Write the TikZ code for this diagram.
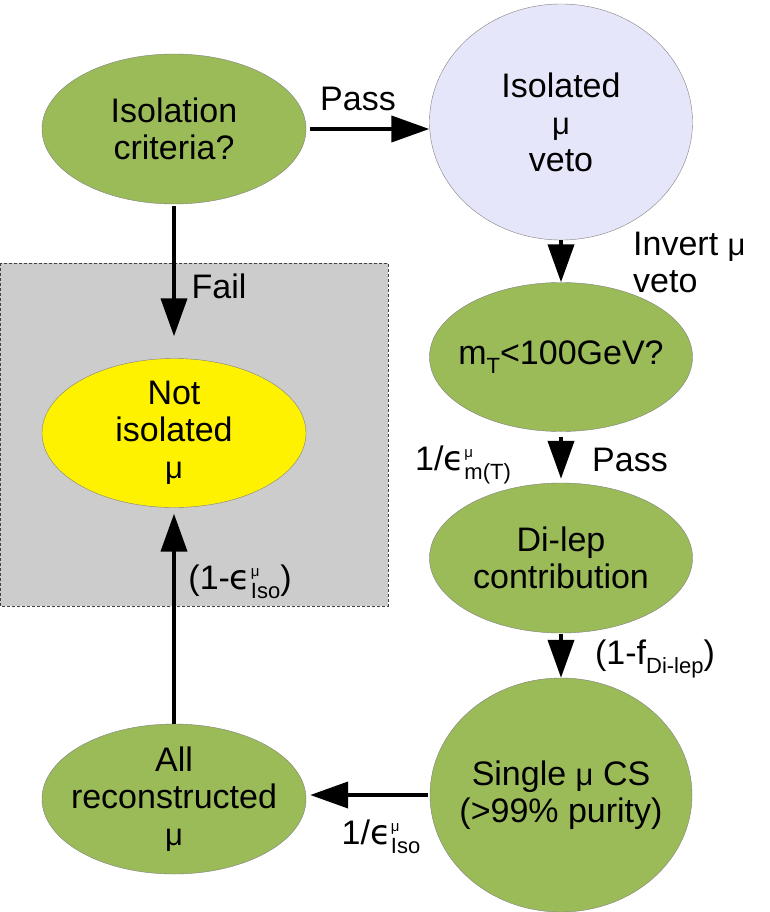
\documentclass[tikz,border=0pt]{standalone}
\usepackage{fontspec}
\setmainfont{Liberation Sans}
\newfontfamily\epsfont{DejaVu Sans}
\usetikzlibrary{shapes.geometric,arrows.meta}
\definecolor{olivegreen}{HTML}{9BBB59}
\definecolor{vetoblue}{HTML}{E6E6FA}
\definecolor{boxgray}{HTML}{CCCCCC}
\newcommand\eps{{\epsfont ϵ}}
\newcommand\smu{\mbox{\fontsize{31}{37}\selectfont μ}}
\newcommand\supsub[2]{\rlap{\raisebox{13pt}[0pt][0pt]{\fontsize{15}{15}\selectfont #1}}\raisebox{-9pt}[0pt][0pt]{\fontsize{22}{22}\selectfont #2}}
\newcommand\lowsub[1]{\raisebox{-9pt}{\fontsize{22}{22}\selectfont #1}}
\begin{document}
\begin{tikzpicture}[x=1pt,y=-1pt]
  \tikzset{font={\fontsize{34}{37}\selectfont},
    ell/.style={ellipse,draw=gray,fill=olivegreen,inner sep=0pt,minimum width=264pt},
    txt/.style={align=center,inner sep=0pt},
    arr/.style={-{Triangle[length=38pt,width=26pt]},line width=4pt}}
  \useasboundingbox (0,0) rectangle (770,912);
  % failed region
  \fill[boxgray] (0,263) rectangle (388,606);
  \draw[densely dashed,gray!50!black,thin] (0,263) rectangle (388,606);
  % left column
  \node[ell,minimum height=150pt] (iso) at (174,129) {};
  \node[txt] (isoT) at (iso) {Isolation\\criteria?};
  \node[ell,fill=yellow,minimum height=149pt] (notiso) at (174,433) {};
  \node[txt] (notisoT) at (notiso) {Not\\isolated\\\smu};
  \node[ell,minimum height=150pt] (allrec) at (174,799) {};
  \node[txt] (allrecT) at (allrec) {All\\reconstructed\\\smu};
  % right column
  \node[ell,fill=vetoblue,minimum width=263pt,minimum height=236pt] (veto) at (561,122) {};
  \node[txt] (vetoT) at (veto) {Isolated\\\smu\\veto};
  \node[ell,minimum width=263pt,minimum height=149pt] (mt) at (561,357) {};
  \node[txt] (mtT) at (mt) {m\lowsub{T}<100GeV?};
  \node[ell,minimum width=263pt,minimum height=150pt] (dilep) at (561,558) {};
  \node[txt] (dilepT) at (dilep) {Di-lep\\contribution};
  \node[ell,minimum width=262pt,minimum height=234pt] (single) at (561,795) {};
  \node[txt] (singleT) at (single) {Single \smu{} CS\\(>99\% purity)};
  % connectors
  \draw[arr,shorten <=4pt] (iso.east) -- (iso.east -| veto.west);
  \draw[arr,shorten <=2pt,shorten >=22pt] (iso.south) -- (notiso.north);
  \draw[arr,shorten >=6pt] (allrec.north) -- (notiso.south);
  \draw[arr] (veto.south) -- (mt.north);
  \draw[arr,shorten <=5pt,shorten >=4pt] (mt.south) -- (dilep.north);
  \draw[arr,shorten <=1pt] (dilep.south) -- (single.north);
  \draw[arr,shorten <=2pt,shorten >=4pt] (single.west) -- (single.west -| allrec.east);
  % labels
  \node[txt] (passA) at (358,99) {Pass};
  \node[txt] (fail) at (219,286) {Fail};
  \node[txt,align=left,anchor=west] (invert) at (633,262) {Invert \smu\\veto};
  \node[txt] (effmt) at (463,458) {1/\eps\supsub{μ}{m(T)}};
  \node[txt] (passB) at (630,460) {Pass};
  \node[txt] (effiso) at (240,581) {(1-\eps\supsub{μ}{Iso})};
  \node[txt] (fdilep) at (655,659) {(1-f\lowsub{Di-lep})};
  \node[txt] (inviso) at (381,832) {1/\eps\supsub{μ}{Iso}};
\end{tikzpicture}
\end{document}
